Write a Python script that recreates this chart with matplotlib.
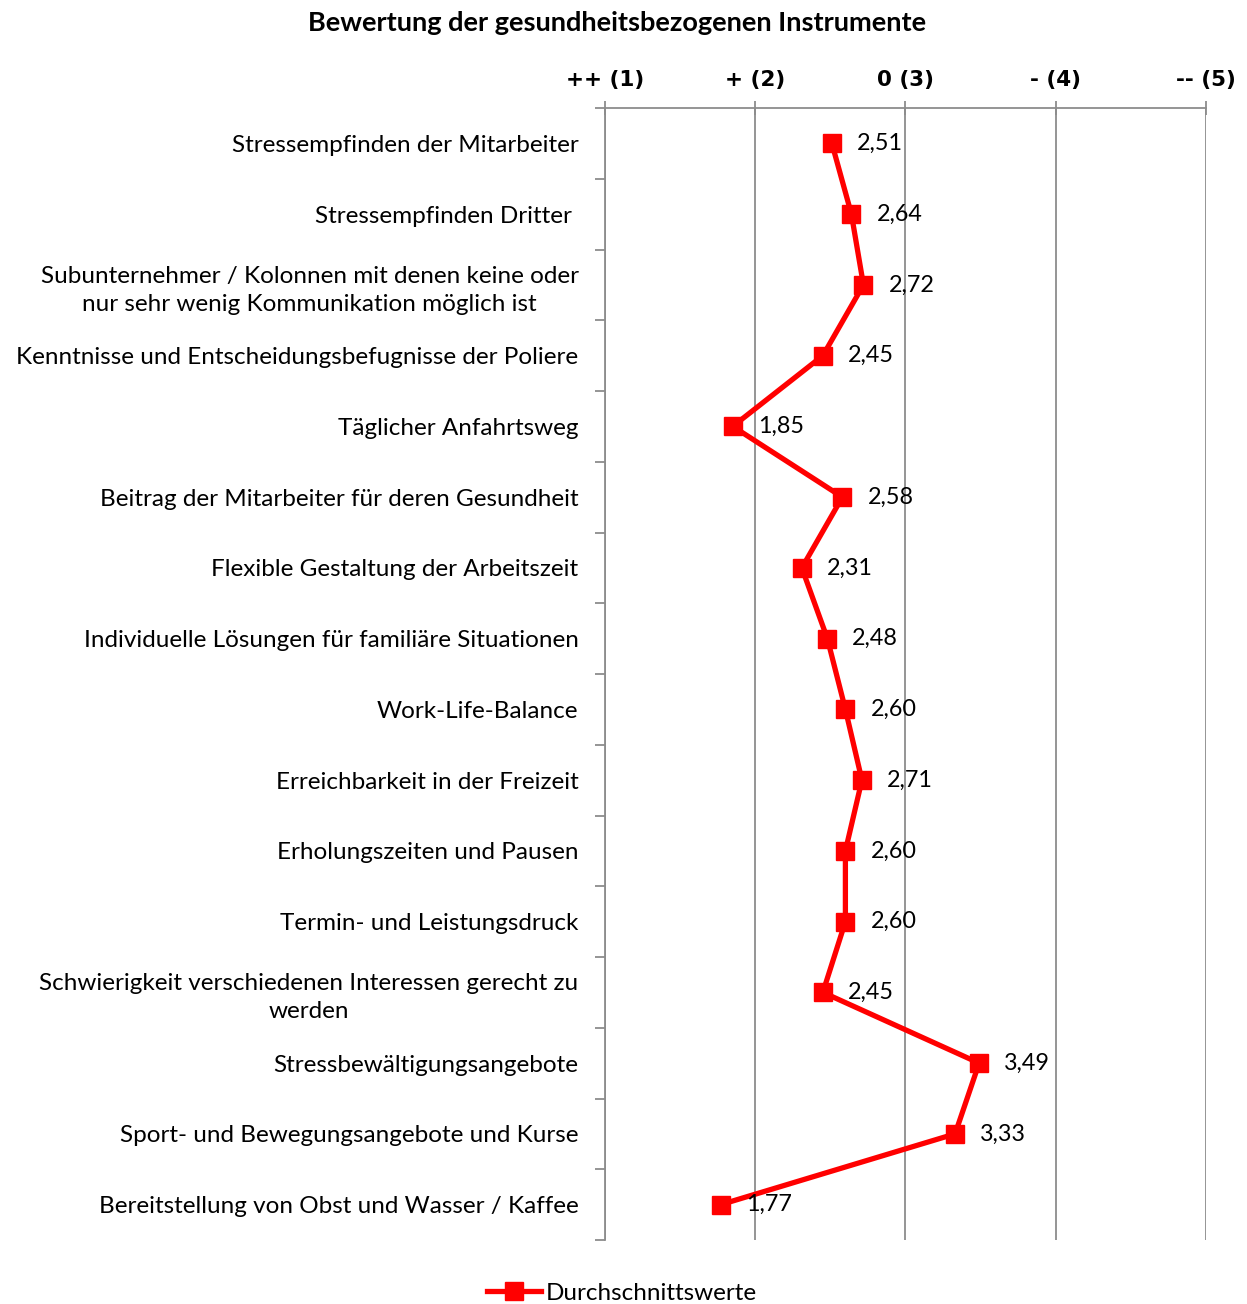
import numpy as np
import matplotlib.pyplot as plt
from matplotlib.lines import Line2D

categories = [
    "Stressempfinden der Mitarbeiter",
    "Stressempfinden Dritter ",
    "Subunternehmer / Kolonnen mit denen keine oder\nnur sehr wenig Kommunikation möglich ist",
    "Kenntnisse und Entscheidungsbefugnisse der Poliere",
    "Täglicher Anfahrtsweg",
    "Beitrag der Mitarbeiter für deren Gesundheit",
    "Flexible Gestaltung der Arbeitszeit",
    "Individuelle Lösungen für familiäre Situationen",
    "Work-Life-Balance",
    "Erreichbarkeit in der Freizeit",
    "Erholungszeiten und Pausen",
    "Termin- und Leistungsdruck",
    "Schwierigkeit verschiedenen Interessen gerecht zu\nwerden",
    "Stressbewältigungsangebote",
    "Sport- und Bewegungsangebote und Kurse",
    "Bereitstellung von Obst und Wasser / Kaffee",
]
values = [2.51, 2.64, 2.72, 2.45, 1.85, 2.58, 2.31, 2.48, 2.60, 2.71, 2.60, 2.60, 2.45, 3.49, 3.33, 1.77]
scale_ticks = [1, 2, 3, 4, 5]
scale_labels = ["++ (1)", "+ (2)", "0 (3)", "- (4)", "-- (5)"]

W, H = 1247, 1304
fig = plt.figure(figsize=(W / 100, H / 100), dpi=100)
ax = fig.add_axes([605 / W, 1 - 1240 / H, (1206 - 605) / W, (1240 - 108) / H])

font = ["Lato", "DejaVu Sans"]
grey = "#8c8c8c"
n = len(categories)
ypos = np.arange(n) + 0.5

ax.plot(values, ypos, color="#ff0000", lw=3.8, marker="s", ms=13, zorder=3)
for v, y in zip(values, ypos):
    lab = ("%.2f" % v).replace(".", ",")
    ax.annotate(lab, (v, y), xytext=(18, 0), textcoords="offset points",
                va="center", ha="left", fontsize=16.8, family=font, zorder=4)

ax.set_xlim(1, 5)
ax.set_ylim(n, 0)
ax.xaxis.tick_top()
ax.set_xticks(scale_ticks)
ax.set_xticklabels(scale_labels, fontsize=15.5, fontweight="bold", family="DejaVu Sans")
ax.tick_params(axis="x", direction="inout", length=10, color=grey, width=1.3, pad=8)
ax.grid(axis="x", color=grey, lw=1.3)
ax.set_axisbelow(True)

ax.set_yticks(np.arange(n + 1))
ax.set_yticklabels([])
ax.set_yticks(ypos, minor=True)
ax.set_yticklabels(categories, minor=True, fontsize=17.5, family=font,
                   multialignment="center", linespacing=1.4)
ax.tick_params(axis="y", which="major", length=7, color=grey, width=1.3)
ax.tick_params(axis="y", which="minor", length=0, pad=19)

for s in ["right", "bottom"]:
    ax.spines[s].set_visible(False)
for s in ["left", "top"]:
    ax.spines[s].set_color(grey)
    ax.spines[s].set_linewidth(1.3)

fig.text(617 / W, 1 - 23 / H, "Bewertung der gesundheitsbezogenen Instrumente",
         ha="center", va="center", fontsize=19.5, fontweight="bold", family=font)

handle = Line2D([], [], color="#ff0000", lw=3.8, marker="s", ms=13)
fig.legend([handle], ["Durchschnittswerte"], loc="center", bbox_to_anchor=(622 / W, 1 - 1293 / H),
           frameon=False, prop={"family": font, "size": 17.5}, handlelength=2.2, handletextpad=0.2)

fig.savefig("out.png", dpi=100)
